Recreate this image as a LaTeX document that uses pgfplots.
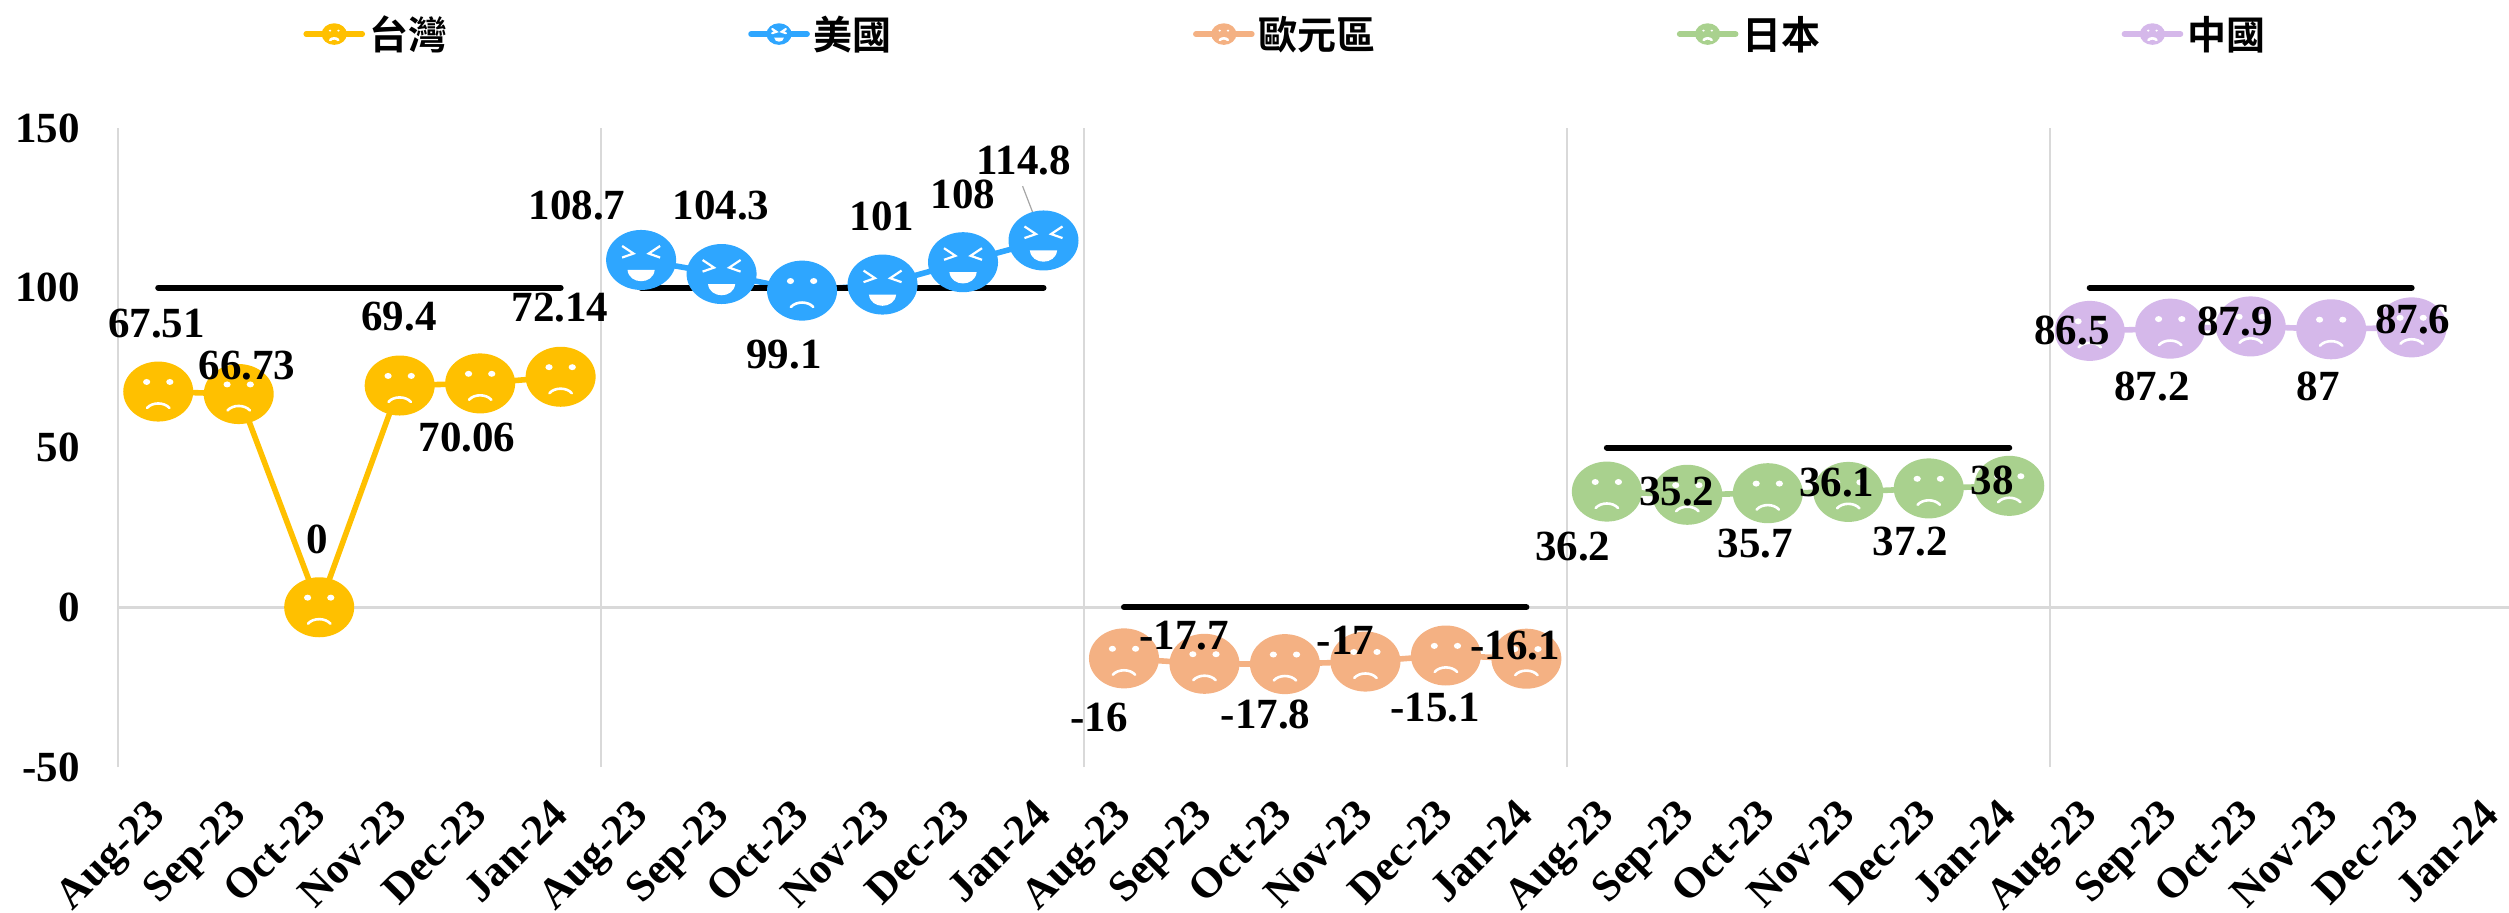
\documentclass[border=0pt]{standalone}
\usepackage{pgfplots}
\pgfplotsset{compat=1.18}
\usepackage{fontspec}
\setmainfont{Liberation Serif}
\newfontfamily\cjk{Noto Sans CJK TC}[BoldFont={* Bold}]
\definecolor{cTW}{HTML}{FFC000}
\definecolor{cUS}{HTML}{2EA6FF}
\definecolor{cEU}{HTML}{F4B183}
\definecolor{cJP}{HTML}{A9D18E}
\definecolor{cCN}{HTML}{D5B8EA}
\definecolor{gridc}{HTML}{D9D9D9}
% 1 px = 0.5 pt. Faces are 70 x 60 px.
\pgfdeclareplotmark{sadface}{%
  \pgfpathellipse{\pgfpointorigin}{\pgfqpoint{17.5pt}{0pt}}{\pgfqpoint{0pt}{15pt}}\pgfusepathqfill
  \begin{pgfscope}
  \pgfsetfillcolor{white}\pgfsetstrokecolor{white}\pgfsetlinewidth{1.3pt}\pgfsetroundcap
  \pgfpathellipse{\pgfqpoint{-5.8pt}{4.8pt}}{\pgfqpoint{1.8pt}{0pt}}{\pgfqpoint{0pt}{1.5pt}}\pgfusepathqfill
  \pgfpathellipse{\pgfqpoint{5.8pt}{4.8pt}}{\pgfqpoint{1.8pt}{0pt}}{\pgfqpoint{0pt}{1.5pt}}\pgfusepathqfill
  \pgfpathmoveto{\pgfqpoint{-5.6pt}{-8.2pt}}
  \pgfpathcurveto{\pgfqpoint{-3pt}{-5.2pt}}{\pgfqpoint{3pt}{-5.2pt}}{\pgfqpoint{5.6pt}{-8.2pt}}
  \pgfusepathqstroke
  \end{pgfscope}}
\pgfdeclareplotmark{laughface}{%
  \pgfpathellipse{\pgfpointorigin}{\pgfqpoint{17.5pt}{0pt}}{\pgfqpoint{0pt}{15pt}}\pgfusepathqfill
  \begin{pgfscope}
  \pgfsetfillcolor{white}\pgfsetstrokecolor{white}\pgfsetlinewidth{1.1pt}
  \pgfpathmoveto{\pgfqpoint{-9.5pt}{7pt}}\pgfpathlineto{\pgfqpoint{-3.8pt}{3.2pt}}\pgfpathlineto{\pgfqpoint{-9.5pt}{1.2pt}}\pgfusepathqstroke
  \pgfpathmoveto{\pgfqpoint{9.5pt}{7pt}}\pgfpathlineto{\pgfqpoint{3.8pt}{3.2pt}}\pgfpathlineto{\pgfqpoint{9.5pt}{1.2pt}}\pgfusepathqstroke
  \pgfpathmoveto{\pgfqpoint{-6.8pt}{-5pt}}\pgfpathlineto{\pgfqpoint{6.8pt}{-5pt}}
  \pgfpathcurveto{\pgfqpoint{6pt}{-12.5pt}}{\pgfqpoint{-6pt}{-12.5pt}}{\pgfqpoint{-6.8pt}{-5pt}}
  \pgfusepathqfill
  \end{pgfscope}}
\pgfplotstableread{
x y
1 67.51
2 66.73
3 0
4 69.4
5 70.06
6 72.14
}\tw
\pgfplotstableread{
x y
7 108.7
8 104.3
9 99.1
10 101
11 108
12 114.8
}\us
\pgfplotstableread{
x y
13 -16
14 -17.7
15 -17.8
16 -17
17 -15.1
18 -16.1
}\eu
\pgfplotstableread{
x y
19 36.2
20 35.2
21 35.7
22 36.1
23 37.2
24 38
}\jp
\pgfplotstableread{
x y
25 86.5
26 87.2
27 87.9
28 87
29 87.6
}\cn
\pgfplotstableread{
x y dx dy lab
1 67.51 -0.9 34.2 67.51
2 66.73 4.2 14.1 66.73
3 0 -1.2 33.8 0
4 69.4 -0.3 34.3 69.4
5 70.06 -6.6 -27.2 70.06
6 72.14 -0.3 34.4 72.14
7 108.7 -32.1 27.4 108.7
8 104.3 -0.3 34.5 104.3
9 99.1 -9 -32.2 99.1
10 101 -0.2 34.2 101
11 108 0 34.1 108
12 114.8 -9.8 40.2 114.8
13 -16 -12.4 -29.4 -16
14 -17.7 -10.2 14.1 -17.7
15 -17.8 -9.7 -25 -17.8
16 -17 -9.9 10.6 -17
17 -15.1 -5.4 -26.1 -15.1
18 -16.1 -5.6 6.7 -16.1
19 36.2 -17 -27.4 36.2
20 35.2 -5.3 1.4 35.2
21 35.7 -6.3 -25 35.7
22 36.1 -5.8 4.8 36.1
23 37.2 -9.2 -26.6 37.2
24 38 -8.6 2.6 38
25 86.5 -8.9 0.2 86.5
26 87.2 -9.1 -29 87.2
27 87.9 -7.8 2.7 87.9
28 87 -6.4 -28.6 87
29 87.6 0.6 4 87.6
}\labels
\begin{document}
\begin{tikzpicture}[x=1pt,y=1pt]
\useasboundingbox (0,0) rectangle (1254.5,456);
\begin{axis}[
  at={(59pt,72.5pt)},anchor=south west,
  scale only axis,width=1195.5pt,height=319.5pt,
  clip=false,
  xmin=0.5,xmax=30.21,ymin=-50,ymax=150,
  axis line style={draw=none},
  tick style={draw=none},
  major tick length=0pt,
  ytick={-50,0,50,100,150},
  xtick={1,...,30},
  xticklabels={Aug-23,Sep-23,Oct-23,Nov-23,Dec-23,Jan-24,Aug-23,Sep-23,Oct-23,Nov-23,Dec-23,Jan-24,Aug-23,Sep-23,Oct-23,Nov-23,Dec-23,Jan-24,Aug-23,Sep-23,Oct-23,Nov-23,Dec-23,Jan-24,Aug-23,Sep-23,Oct-23,Nov-23,Dec-23,Jan-24},
  /pgf/number format/assume math mode=true,
  tick label style={font=\fontsize{21.5}{24}\selectfont\bfseries},
  xticklabel style={rotate=45,anchor=north east,xshift=-11pt,yshift=-3pt},
  yticklabel style={anchor=east,xshift=-15.5pt},
  extra x ticks={0.5,6.5,12.5,18.5,24.5},
  extra x tick labels={},
  extra x tick style={grid=major,major grid style={gridc,line width=1pt}},
  extra y ticks={0},
  extra y tick labels={},
  extra y tick style={grid=major,major grid style={gridc,line width=1.4pt}},
  legend style={at={(0.0774,1.147)},anchor=west,draw=none,fill=none,
    inner sep=0pt,
    /tikz/every odd column/.style={column sep=0pt},
    /tikz/every even column/.style={column sep=148.6pt},
    font=\cjk\fontsize{19.5}{21}\selectfont\bfseries,
    legend cell align=left},
  legend columns=5,
  legend image code/.code={
    \draw[mark repeat=2,mark phase=2,line cap=round,#1] plot coordinates {(0pt,0pt) (14pt,0pt) (28pt,0pt)};},
  series/.style={color=#1,line width=2.8pt,mark options={fill=#1,draw=none,solid},
    legend image post style={line width=2.8pt,mark options={fill=#1,draw=none,scale=.36}}},
]
\addplot[series=cTW,mark=sadface] table[x=x,y=y] {\tw};
\addlegendentry{台灣}
\addplot[series=cUS,mark=laughface,mark indices={1,2,4,5,6},
  legend image post style={mark indices={2}}] table[x=x,y=y] {\us};
\addlegendentry{美國}
\addplot[series=cEU,mark=sadface] table[x=x,y=y] {\eu};
\addlegendentry{歐元區}
\addplot[series=cJP,mark=sadface] table[x=x,y=y] {\jp};
\addlegendentry{日本}
\addplot[series=cCN,mark=sadface] table[x=x,y=y] {\cn};
\addlegendentry{中國}
\addplot[forget plot,only marks,mark=sadface,mark options={fill=cUS,draw=none}] coordinates {(9,99.1)};
\addplot[forget plot,black,line width=3pt,line cap=round] coordinates {(1,100) (6,100)};
\addplot[forget plot,black,line width=3pt,line cap=round] coordinates {(7,100) (12,100)};
\addplot[forget plot,black,line width=3pt,line cap=round] coordinates {(13,0) (18,0)};
\addplot[forget plot,black,line width=3pt,line cap=round] coordinates {(19,50) (24,50)};
\addplot[forget plot,black,line width=3pt,line cap=round] coordinates {(25,100) (29,100)};
\addplot[forget plot,color={rgb,255:red,166;green,166;blue,166},line width=0.6pt] coordinates {(11.74,131.8) (12,114.8)};
\addplot[forget plot,draw=none,no markers,
  point meta=explicit symbolic,
  visualization depends on={\thisrow{dx} \as \dxv},
  visualization depends on={\thisrow{dy} \as \dyv},
  nodes near coords,
  every node near coord/.style={anchor=center,inner sep=0pt,text=black,
    font=\fontsize{21.5}{24}\selectfont\bfseries,xshift=\dxv pt,yshift=\dyv pt},
] table[x=x,y=y,meta=lab] {\labels};
\end{axis}
\end{tikzpicture}
\end{document}
